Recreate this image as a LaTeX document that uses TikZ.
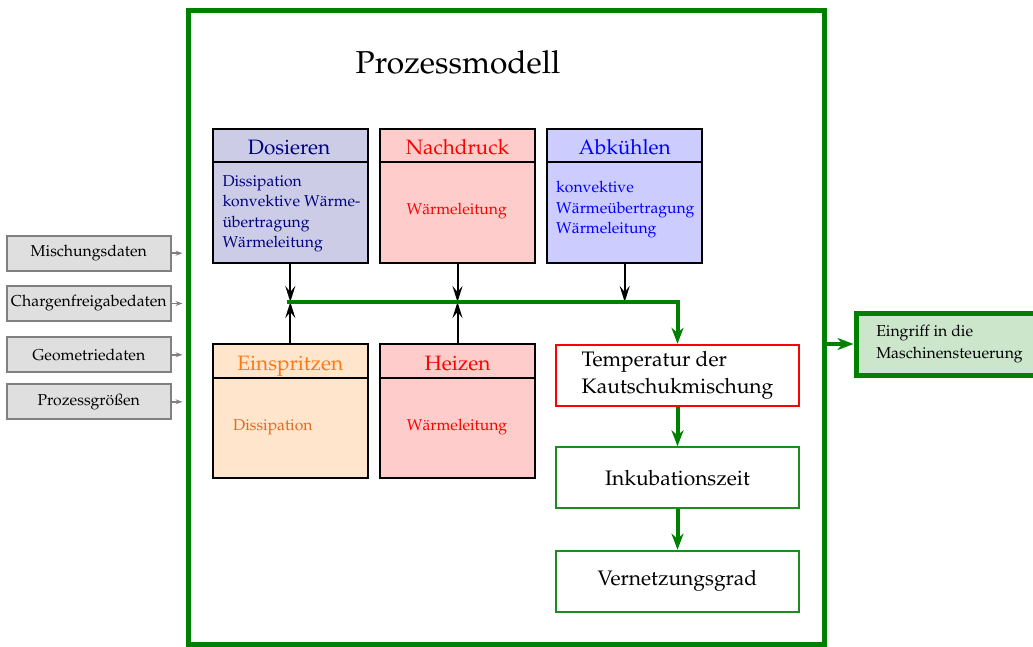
\documentclass[tikz,border=0pt]{standalone}
\usepackage[T1]{fontenc}
\usepackage{mathpazo}
\usetikzlibrary{arrows.meta,calc}
\definecolor{dgreen}{RGB}{0,128,0}
\definecolor{lgreen}{RGB}{30,140,30}
\definecolor{navyc}{RGB}{0,0,128}
\definecolor{orangec}{RGB}{255,120,20}
\definecolor{orangeb}{RGB}{225,105,30}
\newcommand\myfs[2]{\fontsize{#1}{#2}\selectfont}
\begin{document}
\begin{tikzpicture}[x=1pt,y=-1pt,
  frame/.style={draw=dgreen, line width=5pt, fill=white, minimum width=636.5pt, minimum height=634pt, inner sep=0pt},
  procbox/.style={draw=black, line width=2pt, minimum width=155pt, minimum height=134.5pt, inner sep=0pt},
  divider/.style={draw=black, line width=2pt},
  inbox/.style={draw=gray, fill=gray!25, line width=2pt, minimum width=164pt, minimum height=35pt, inner sep=0pt, font=\myfs{15.8}{19}},
  resbox/.style={line width=2pt, minimum width=243.6pt, minimum height=61pt, inner sep=0pt, font=\myfs{21}{27.3}},
  title/.style={anchor=base, inner sep=0pt, font=\myfs{31.7}{36}},
  hdr/.style={anchor=base, inner sep=0pt, font=\myfs{20.8}{24}},
  body/.style={inner sep=0pt, font=\myfs{15.7}{20.5}, align=left},
  barrow/.style={draw=black, line width=2pt, -{Stealth[length=16pt,width=10pt,inset=6pt]}},
  garrow/.style={draw=dgreen, line width=4pt, -{Stealth[length=16pt,width=12pt,inset=5pt]}},
  grarrow/.style={draw=gray, line width=1.6pt, -{Stealth[length=7pt,width=5pt,inset=2.5pt]}, shorten >=3pt},
]
\useasboundingbox (0,0) rectangle (1033,646);

% outer frame
\node[frame] (frame) at (506.25,327) {};
\node[title] (ttl) at (458,73.5) {Prozessmodell};

% input boxes
\node[inbox] (mix) at (88.8,253.2) {Mischungsdaten};
\node[inbox] (chg) at (88.8,303.5) {Chargenfreigabedaten};
\node[inbox] (geo) at (88.8,354.8) {Geometriedaten};
\node[inbox] (prz) at (88.8,401.8) {Prozessgr\"o\ss en};
\foreach \n in {mix,chg,geo,prz}
  \draw[grarrow] (\n.east) -- (frame.west |- \n.east);

% process boxes
\node[procbox, fill=navyc!20] (dos) at (290.3,196) {};
\node[procbox, fill=red!20] (nach) at (457.5,196) {};
\node[procbox, fill=blue!20] (abk) at (624.7,196) {};
\node[procbox, fill=orange!20] (ein) at (290.3,411.2) {};
\node[procbox, fill=red!20] (hei) at (457.5,411.2) {};
\foreach \n in {dos,nach,abk}
  \draw[divider] ($(\n.north west)+(0,34.3)$) -- ($(\n.north east)+(0,34.3)$);
\foreach \n in {ein,hei}
  \draw[divider] ($(\n.north west)+(0,35.3)$) -- ($(\n.north east)+(0,35.3)$);

\node[hdr, text=navyc] (dosh) at (289,154.3) {Dosieren};
\node[hdr, text=red] (nachh) at (457.5,154.3) {Nachdruck};
\node[hdr, text=blue] (abkh) at (624.7,154.3) {Abk\"uhlen};
\node[hdr, text=orangec] (einh) at (290.3,370) {Einspritzen};
\node[hdr, text=red] (heih) at (457.5,370) {Heizen};

\node[body, text=navyc, anchor=west] (dosb) at (222.3,214) {Dissipation\\konvektive W\"arme-\\\"ubertragung\\W\"armeleitung};
\node[body, text=red, anchor=base] (nachb) at (456.7,214) {W\"armeleitung};
\node[body, text=blue, anchor=west] (abkb) at (556,210) {konvektive\\W\"arme\"ubertragung\\W\"armeleitung};
\node[body, text=orangeb, anchor=base west] (einb) at (233,430) {Dissipation};
\node[body, text=red, anchor=base] (heib) at (457,430) {W\"armeleitung};

% result boxes
\node[resbox, draw=red, fill=white, align=left] (temp) at (677.5,375.3) {Temperatur der\\Kautschukmischung};
\node[resbox, draw=lgreen, fill=white] (ink) at (677.5,477.8) {Inkubationszeit};
\node[resbox, draw=lgreen, fill=white] (vern) at (677.5,581.2) {Vernetzungsgrad};

% output box
\node[draw=dgreen, line width=5pt, fill=dgreen!20, minimum width=187pt, minimum height=62pt, inner sep=0pt, align=left, font=\myfs{15.8}{22.3}] (eing) at (949.5,344) {Eingriff in die\\Maschinensteuerung};

% junctions
\coordinate (j1) at (290.3,302);
\coordinate (j2) at (457.5,302);
\coordinate (j3) at (624.7,302);
\coordinate (gs) at (287,302);

\draw[barrow] (dos.south) -- (j1);
\draw[barrow] (ein.north) -- (j1);
\draw[barrow] (nach.south) -- (j2);
\draw[barrow] (hei.north) -- (j2);
\draw[barrow] (abk.south) -- (j3);

\draw[garrow] (gs) -| (temp.north);
\draw[garrow] (temp.south) -- (ink.north);
\draw[garrow] (ink.south) -- (vern.north);
\draw[garrow] (frame.east |- eing.west) -- (eing.west);
\end{tikzpicture}
\end{document}
